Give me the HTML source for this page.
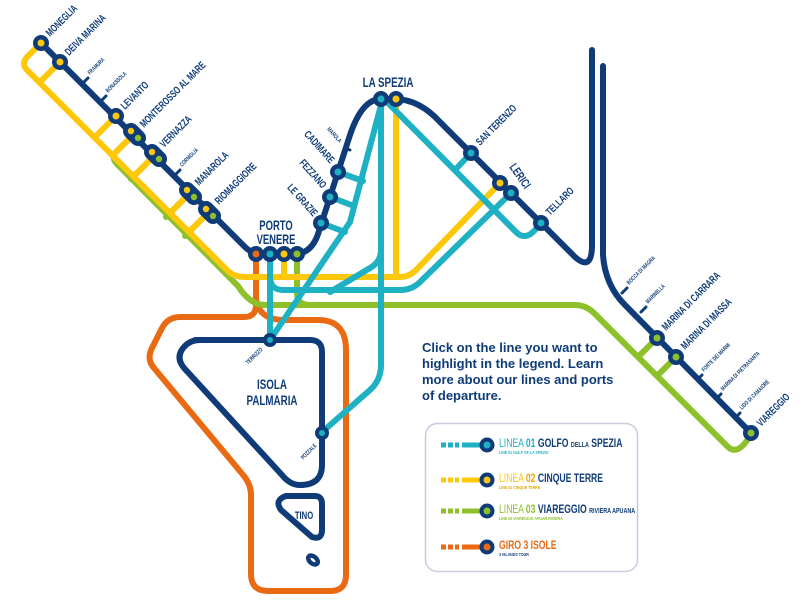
<!DOCTYPE html>
<html><head><meta charset="utf-8"><style>
html,body{margin:0;padding:0;background:#fff;}
svg{display:block;}
text{font-family:"Liberation Sans Narrow","Liberation Sans",sans-serif;font-weight:bold;fill:#0f3c78;}
.s{font-size:6px;}
.m{font-size:10.5px;}
</style></head><body>
<svg width="802" height="600" viewBox="0 0 802 600" xmlns="http://www.w3.org/2000/svg">
<g fill="none" stroke-linecap="round" stroke-linejoin="round">
<path d="M256,258 L256,305 Q256,317 244,317 L180,317 Q168,317 162,328 L151,350 Q147,360 154,368 L244,476 Q251,485 251,495 L251,574 Q251,591 268,591 L330,591 Q346,591 346,575 L346,350 Q346,320 318,320 L285,320 Q258,320 256,298" stroke="#ea6a13" stroke-width="6"/>
<path d="M134,134 L116,152 Q111,158 117,164 L238,286 Q250,305 265,305 L575,305 Q585,305 593,312 L728,447 Q738,456 750,436" stroke="#8dc02a" stroke-width="6"/>
<path d="M297,253 L297,293 Q297,305 310,305" stroke="#8dc02a" stroke-width="6"/>
<path d="M155,155 L131,179 M190,193 L166,217 M209,212 L185,236 M657,338 L639,356 M676,357 L658,375" stroke="#8dc02a" stroke-width="6"/>
<path d="M41,43 L27,57 Q21,64 27,70 L228,271 Q234,277 245,277 L400,277 Q410,277 418,268 L500,183" stroke="#fdc80c" stroke-width="6"/>
<path d="M396,99 L396,277 M284,253 L284,277" stroke="#fdc80c" stroke-width="6"/>
<path d="M60,62 L42,80 M116,116 L97,135 M134,134 L115,153 M155,155 L136,174 M190,193 L171,212 M209,212 L190,231" stroke="#fdc80c" stroke-width="6"/>
<g stroke="#1db1c3" stroke-width="6">
<path d="M270,255 L270,340"/>
<path d="M270,276 Q270,290 283,290 L400,290 Q412,290 420,282 L511,193"/>
<path d="M381,99 L381,365 Q381,380 370,390 L321,433"/>
<path d="M381,105 L350,222 L270,340"/>
<path d="M381,250 Q381,262 370,268 L330,292"/>
<path d="M388,103 L516,232 Q525,241 535,230 L541,223"/>
<path d="M471,153 L455,170"/>
<path d="M338,172 L363,181 M330,197 L354,206 M321,223 L345,232"/>
</g>
<g stroke="#0f3c78" stroke-width="6">
<path d="M41,43 L245,247 Q252,254 262,254 L297,254 Q312,252 318,234 L338,172 L350,135 Q362,99 381,99 L396,99 Q420,100 440,122 L575,257 Q592,272 592,245 L592,50"/>
<path d="M603,66 L603,255 Q605,285 625,305 L751,433"/>
<path d="M195,340 L310,340 Q322,340 322,352 L322,465 Q322,485 300,485 Q290,485 282,475 L184,368 Q175,357 184,347 Q190,340 200,340 Z"/>
<path d="M286,496 L315,496 Q322,496 322,504 L322,530 Q322,540 312,537 L281,510 Q274,500 286,496 Z"/>
<ellipse cx="313" cy="560" rx="5.5" ry="3.5" transform="rotate(40 313 560)" stroke-width="4.5"/>
</g>
<g stroke="#0f3c78" stroke-width="3">
<path d="M83,83 L88,78 M101,101 L106,96 M175,175 L180,170 M345,148 L350,150 M622,293 L627,288 M641,312 L646,307 M697,380 L702,375 M716,399 L721,394 M735,418 L740,413"/>
</g>
</g>
<g fill="#0f3c78">
<circle cx="41" cy="43" r="8"/><circle cx="60" cy="62" r="8"/><circle cx="116" cy="116" r="8"/>
<line x1="131" y1="131" x2="138" y2="138" stroke="#0f3c78" stroke-width="16" stroke-linecap="round"/>
<line x1="152" y1="152" x2="159" y2="159" stroke="#0f3c78" stroke-width="16" stroke-linecap="round"/>
<line x1="187" y1="190" x2="194" y2="197" stroke="#0f3c78" stroke-width="16" stroke-linecap="round"/>
<line x1="206" y1="209" x2="213" y2="216" stroke="#0f3c78" stroke-width="16" stroke-linecap="round"/>
<circle cx="256" cy="254" r="8"/><circle cx="270" cy="254" r="8"/><circle cx="284" cy="254" r="8"/><circle cx="297" cy="254" r="8"/>
<circle cx="321" cy="223" r="8"/><circle cx="330" cy="197" r="8"/><circle cx="338" cy="172" r="8"/>
<circle cx="381" cy="99" r="8"/><circle cx="396" cy="99" r="8"/>
<circle cx="471" cy="153" r="8"/><circle cx="500" cy="183" r="8"/><circle cx="511" cy="193" r="8"/><circle cx="541" cy="223" r="8"/>
<circle cx="657" cy="338" r="8"/><circle cx="676" cy="357" r="8"/><circle cx="751" cy="433" r="8"/>
<circle cx="270" cy="340" r="7"/><circle cx="322" cy="433" r="7"/>
</g>
<g>
<circle cx="41" cy="43" r="3.5" fill="#fdc80c"/><circle cx="60" cy="62" r="3.5" fill="#fdc80c"/><circle cx="116" cy="116" r="3.5" fill="#fdc80c"/>
<circle cx="131" cy="131" r="3.2" fill="#fdc80c"/><circle cx="138" cy="138" r="3.2" fill="#8dc02a"/>
<circle cx="152" cy="152" r="3.2" fill="#fdc80c"/><circle cx="159" cy="159" r="3.2" fill="#8dc02a"/>
<circle cx="187" cy="190" r="3.2" fill="#fdc80c"/><circle cx="194" cy="197" r="3.2" fill="#8dc02a"/>
<circle cx="206" cy="209" r="3.2" fill="#fdc80c"/><circle cx="213" cy="216" r="3.2" fill="#8dc02a"/>
<circle cx="256" cy="254" r="3.5" fill="#ea6a13"/><circle cx="270" cy="254" r="3.5" fill="#1db1c3"/><circle cx="284" cy="254" r="3.5" fill="#fdc80c"/><circle cx="297" cy="254" r="3.5" fill="#8dc02a"/>
<circle cx="321" cy="223" r="3.5" fill="#1db1c3"/><circle cx="330" cy="197" r="3.5" fill="#1db1c3"/><circle cx="338" cy="172" r="3.5" fill="#1db1c3"/>
<circle cx="381" cy="99" r="3.5" fill="#1db1c3"/><circle cx="396" cy="99" r="3.5" fill="#fdc80c"/>
<circle cx="471" cy="153" r="3.5" fill="#1db1c3"/><circle cx="500" cy="183" r="3.5" fill="#fdc80c"/><circle cx="511" cy="193" r="3.5" fill="#1db1c3"/><circle cx="541" cy="223" r="3.5" fill="#1db1c3"/>
<circle cx="657" cy="338" r="3.5" fill="#8dc02a"/><circle cx="676" cy="357" r="3.5" fill="#8dc02a"/><circle cx="751" cy="433" r="3.5" fill="#8dc02a"/>
<circle cx="270" cy="340" r="3" fill="#1db1c3"/><circle cx="322" cy="433" r="3" fill="#1db1c3"/>
</g>
<text class="m" transform="translate(50,37) rotate(-45) scale(0.7,1)">MONEGLIA</text>
<text class="m" transform="translate(69,56) rotate(-45) scale(0.7,1)">DEIVA MARINA</text>
<text class="s" transform="translate(90,75) rotate(-45) scale(0.7,1)">FRAMURA</text>
<text class="s" transform="translate(108,93) rotate(-45) scale(0.7,1)">BONASSOLA</text>
<text class="m" transform="translate(125,110) rotate(-45) scale(0.7,1)">LEVANTO</text>
<text class="m" transform="translate(144,128) rotate(-45) scale(0.7,1)">MONTEROSSO AL MARE</text>
<text class="m" transform="translate(164,148) rotate(-45) scale(0.7,1)">VERNAZZA</text>
<text class="s" transform="translate(182,167) rotate(-45) scale(0.7,1)">CORNIGLIA</text>
<text class="m" transform="translate(199,186) rotate(-45) scale(0.7,1)">MANAROLA</text>
<text class="m" transform="translate(219,205) rotate(-45) scale(0.7,1)">RIOMAGGIORE</text>
<text font-size="13.5" text-anchor="middle" transform="translate(276,230) scale(0.7,1)">PORTO</text>
<text font-size="13.5" text-anchor="middle" transform="translate(276,244) scale(0.7,1)">VENERE</text>
<text class="m" text-anchor="end" transform="translate(313,217) rotate(48) scale(0.7,1)">LE GRAZIE</text>
<text class="m" text-anchor="end" transform="translate(322,189) rotate(48) scale(0.7,1)">FEZZANO</text>
<text class="m" text-anchor="end" transform="translate(330,164) rotate(48) scale(0.7,1)">CADIMARE</text>
<text class="s" text-anchor="end" transform="translate(339,143) rotate(48) scale(0.7,1)">MAROLA</text>
<text font-size="14" text-anchor="middle" transform="translate(388,87) scale(0.7,1)">LA SPEZIA</text>
<text class="m" transform="translate(480,146) rotate(-45) scale(0.7,1)">SAN TERENZO</text>
<text font-size="12" transform="translate(509,167) rotate(55) scale(0.7,1)">LERICI</text>
<text class="m" transform="translate(550,216) rotate(-45) scale(0.7,1)">TELLARO</text>
<text class="s" transform="translate(629,285) rotate(-45) scale(0.7,1)">BOCCA DI MAGRA</text>
<text class="s" transform="translate(648,304) rotate(-45) scale(0.7,1)">MARINELLA</text>
<text class="m" transform="translate(666,331) rotate(-45) scale(0.7,1)">MARINA DI CARRARA</text>
<text class="m" transform="translate(685,350) rotate(-45) scale(0.7,1)">MARINA DI MASSA</text>
<text class="s" transform="translate(704,372) rotate(-45) scale(0.7,1)">FORTE DEI MARMI</text>
<text class="s" transform="translate(723,391) rotate(-45) scale(0.7,1)">MARINA DI PIETRASANTA</text>
<text class="s" transform="translate(742,410) rotate(-45) scale(0.7,1)">LIDO DI CAMAIORE</text>
<text class="m" transform="translate(761,427) rotate(-45) scale(0.7,1)">VIAREGGIO</text>
<text class="s" text-anchor="end" transform="translate(263,350) rotate(-45) scale(0.7,1)">TERRIZZO</text>
<text class="s" text-anchor="end" transform="translate(317,446) rotate(-45) scale(0.7,1)">POZZALE</text>
<text font-size="14" text-anchor="middle" transform="translate(272,389) scale(0.7,1)">ISOLA</text>
<text font-size="14" text-anchor="middle" transform="translate(272,405) scale(0.7,1)">PALMARIA</text>
<text font-size="11" text-anchor="middle" transform="translate(304,519) scale(0.7,1)">TINO</text>
<g style="font-family:'Liberation Sans',sans-serif;font-size:13px;font-weight:bold;">
<text x="422" y="352">Click on the line you want to</text>
<text x="422" y="368">highlight in the legend. Learn</text>
<text x="422" y="384">more about our lines and ports</text>
<text x="422" y="400">of departure.</text>
</g>
<rect x="425.5" y="423.5" width="212" height="148" rx="12" fill="none" stroke="#c8cbe2" stroke-width="1.5"/>
<g>
<g transform="translate(0,445)">
<rect x="441" y="-2.5" width="5" height="5" fill="#1db1c3"/><rect x="448" y="-2.5" width="5" height="5" fill="#1db1c3"/><rect x="455" y="-2.5" width="4" height="5" fill="#1db1c3"/><rect x="462" y="-2.5" width="20" height="5" fill="#1db1c3"/>
<circle cx="487" cy="0" r="7.5" fill="#0f3c78"/><circle cx="487" cy="0" r="3.5" fill="#1db1c3"/>
<text font-size="12" transform="translate(499,2) scale(0.72,1)"><tspan style="fill:#1db1c3;font-weight:normal">LINEA </tspan><tspan style="fill:#1db1c3">01</tspan> GOLFO <tspan font-size="7.5">DELLA</tspan> SPEZIA</text>
<text font-size="5" transform="translate(499,9) scale(0.72,1)" style="fill:#1db1c3">LINE 01 GULF OF LA SPEZIA</text>
</g>
<g transform="translate(0,480)">
<rect x="441" y="-2.5" width="5" height="5" fill="#fdc80c"/><rect x="448" y="-2.5" width="5" height="5" fill="#fdc80c"/><rect x="455" y="-2.5" width="4" height="5" fill="#fdc80c"/><rect x="462" y="-2.5" width="20" height="5" fill="#fdc80c"/>
<circle cx="487" cy="0" r="7.5" fill="#0f3c78"/><circle cx="487" cy="0" r="3.5" fill="#fdc80c"/>
<text font-size="12" transform="translate(499,2) scale(0.72,1)"><tspan style="fill:#fdc80c;font-weight:normal">LINEA </tspan><tspan style="fill:#f2a800">02</tspan> CINQUE TERRE</text>
<text font-size="5" transform="translate(499,9) scale(0.72,1)" style="fill:#e0a800">LINE 02 CINQUE TERRE</text>
</g>
<g transform="translate(0,511)">
<rect x="441" y="-2.5" width="5" height="5" fill="#8dc02a"/><rect x="448" y="-2.5" width="5" height="5" fill="#8dc02a"/><rect x="455" y="-2.5" width="4" height="5" fill="#8dc02a"/><rect x="462" y="-2.5" width="20" height="5" fill="#8dc02a"/>
<circle cx="487" cy="0" r="7.5" fill="#0f3c78"/><circle cx="487" cy="0" r="3.5" fill="#8dc02a"/>
<text font-size="12" transform="translate(499,2) scale(0.72,1)"><tspan style="fill:#8dc02a;font-weight:normal">LINEA </tspan><tspan style="fill:#8dc02a">03</tspan> VIAREGGIO <tspan font-size="7.5">RIVIERA APUANA</tspan></text>
<text font-size="5" transform="translate(499,9) scale(0.72,1)" style="fill:#8dc02a">LINE 03 VIAREGGIO APUAN RIVIERA</text>
</g>
<g transform="translate(0,547)">
<rect x="441" y="-2.5" width="5" height="5" fill="#ea6a13"/><rect x="448" y="-2.5" width="5" height="5" fill="#ea6a13"/><rect x="455" y="-2.5" width="4" height="5" fill="#ea6a13"/><rect x="462" y="-2.5" width="20" height="5" fill="#ea6a13"/>
<circle cx="487" cy="0" r="7.5" fill="#0f3c78"/><circle cx="487" cy="0" r="3.5" fill="#ea6a13"/>
<text font-size="12" transform="translate(499,2) scale(0.72,1)" style="fill:#ea6a13">GIRO 3 ISOLE</text>
<text font-size="5" transform="translate(499,9) scale(0.72,1)">3 ISLANDS TOUR</text>
</g>
</g>
</svg>
</body></html>
